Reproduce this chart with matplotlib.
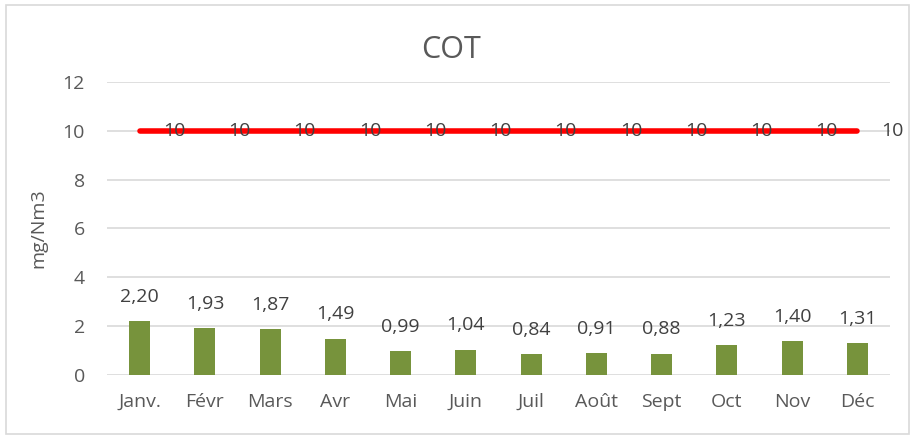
import matplotlib
matplotlib.use("Agg")
import matplotlib.pyplot as plt
from matplotlib.patches import Rectangle

plt.rcParams['font.family'] = ['Open Sans', 'DejaVu Sans']

months = ["Janv.", "Févr", "Mars", "Avr", "Mai", "Juin", "Juil", "Août", "Sept", "Oct", "Nov", "Déc"]
values = [2.20, 1.93, 1.87, 1.49, 0.99, 1.04, 0.84, 0.91, 0.88, 1.23, 1.40, 1.31]
limit = [10] * 12
yticks = [0, 2, 4, 6, 8, 10, 12]

fig = plt.figure(figsize=(9.15, 4.38), dpi=100)
ax = fig.add_axes([107/915, 1 - 375/438, (890-107)/915, (375-82)/438])

x = list(range(len(months)))
ax.bar(x, values, width=0.32, color="#77933C", zorder=3)
ax.plot(x, limit, color="#FF0000", lw=4, solid_capstyle="round", zorder=4)

for xi, v in zip(x, values):
    ax.annotate(f"{v:.2f}".replace(".", ","), (xi, v), xytext=(0, 11), textcoords="offset points",
                ha="center", va="bottom", fontsize=14, color="#404040")
for xi, v in zip(x, limit):
    ax.annotate(f"{v}", (xi, v), xytext=(25, 0), textcoords="offset points",
                ha="center", va="center", fontsize=14, color="#404040", zorder=5)

ax.set_xlim(-0.5, len(months) - 0.5)
ax.set_ylim(0, 12)
ax.set_yticks(yticks)
ax.set_xticks(x)
ax.set_xticklabels(months)
ax.grid(axis="y", color="#D9D9D9", lw=1.2, zorder=0)
for s in ax.spines.values():
    s.set_visible(False)
ax.tick_params(length=0, labelsize=14, labelcolor="#595959")
ax.tick_params(axis="y", pad=16)
ax.tick_params(axis="x", pad=13)
ax.set_ylabel("mg/Nm3", fontsize=14, color="#595959", labelpad=11)
fig.text(451/915, 1 - 50/438, "COT", ha="center", va="center", fontsize=22, color="#595959")

fig.patches.append(Rectangle((6/915, 4/438), 903/915, 429/438, transform=fig.transFigure,
                             fill=False, edgecolor="#D9D9D9", lw=1.2))
fig.savefig("out.png", dpi=100)
